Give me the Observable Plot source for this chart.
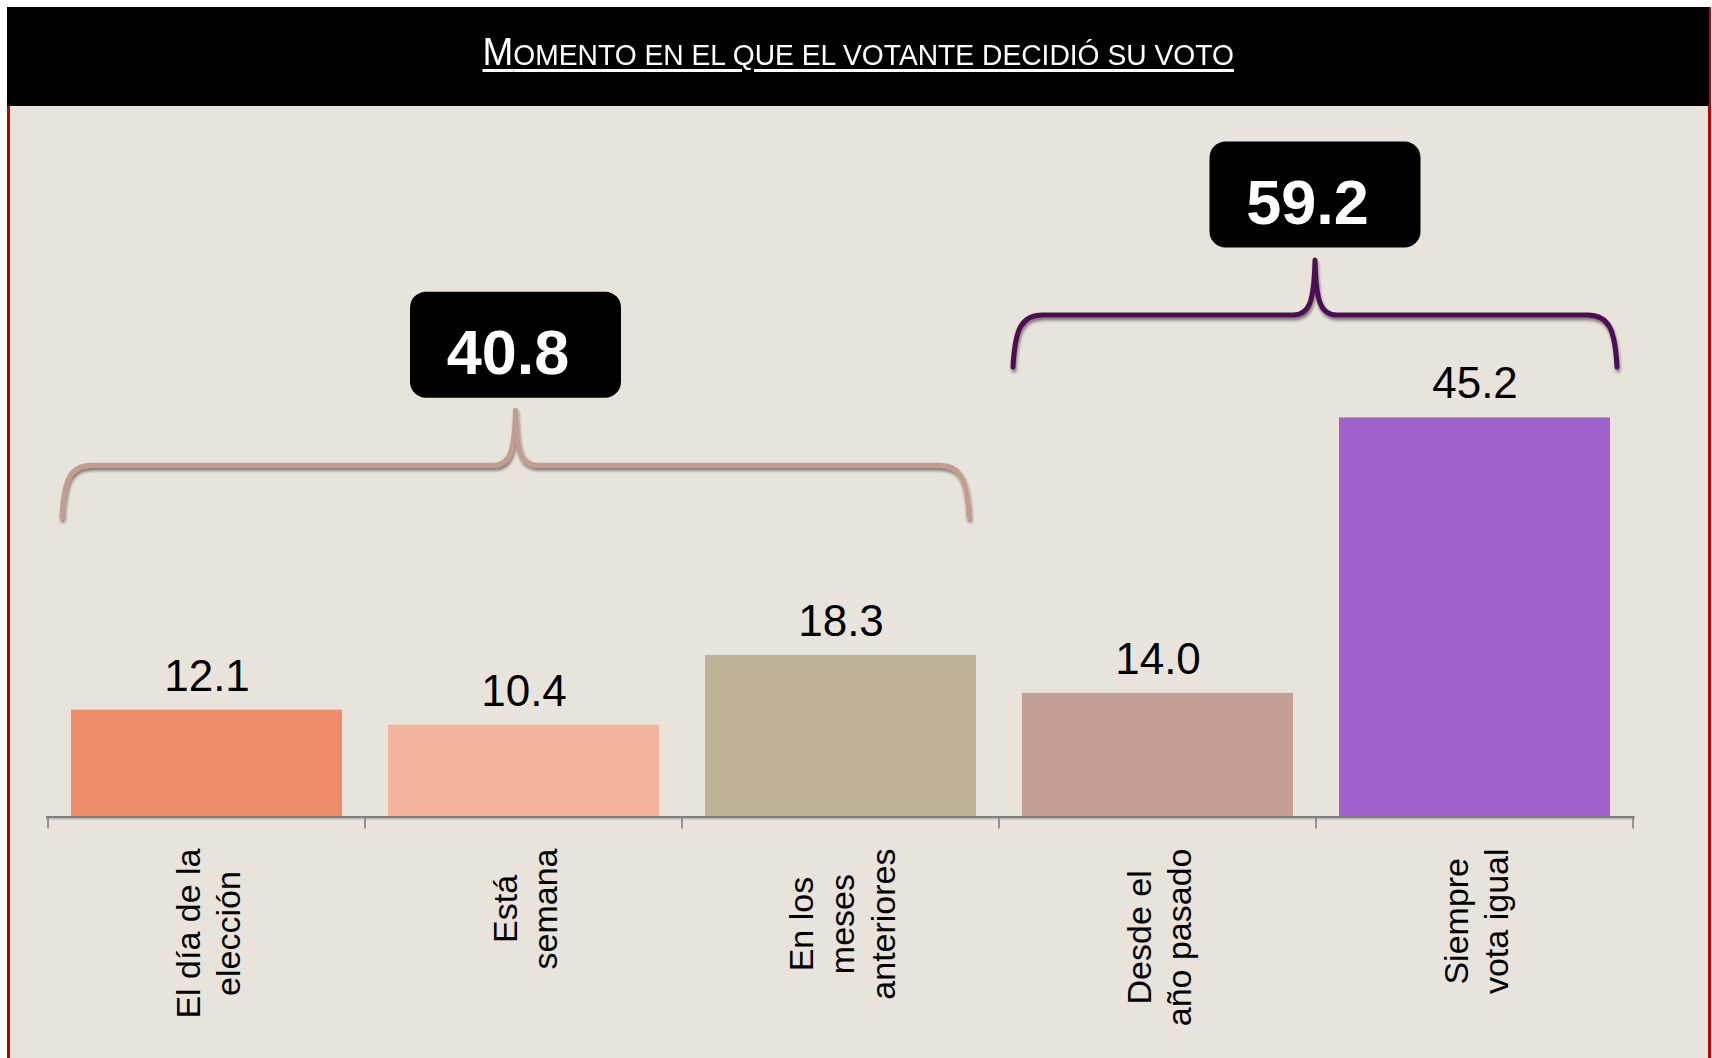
<!DOCTYPE html>
<html><head><meta charset="utf-8">
<script src="https://cdn.jsdelivr.net/npm/d3@7"></script>
<script src="https://cdn.jsdelivr.net/npm/@observablehq/plot@0.6"></script>
<style>
html,body{margin:0;padding:0;background:#fff;width:1712px;height:1058px;overflow:hidden;}
#frame{position:absolute;left:7px;top:7px;width:1704px;height:1060px;box-sizing:border-box;background:#E8E4DC;border-left:3px solid #C00000;border-right:3px solid #C00000;}
#header{position:absolute;left:7px;top:7px;width:1702px;height:99px;background:#000;}
#title{position:absolute;left:0;right:0;top:26px;text-align:center;white-space:nowrap;}
#titleText{display:inline-block;color:#fff;font-family:"Liberation Sans",Arial,sans-serif;font-size:38px;line-height:38px;text-decoration:underline;text-decoration-thickness:3px;text-underline-offset:4px;transform-origin:50% 50%;}
#titleText .sc{font-size:29px;}
#chart{position:absolute;left:0;top:106px;}
</style></head><body>
<div id="frame"></div>
<div id="header"><div id="title"><span id="titleText">M<span class="sc">OMENTO EN EL QUE EL VOTANTE DECIDIÓ SU VOTO</span></span></div></div>
<div id="chart"></div>
<script>
// ---- data ----
const categories = ["El día de la\nelección", "Está\nsemana", "En los\nmeses\nanteriores", "Desde el\naño pasado", "Siempre\nvota igual"];
const values = [12.1, 10.4, 18.3, 14.0, 45.2];
const valueLabels = ["12.1", "10.4", "18.3", "14.0", "45.2"];
const groupLabels = ["40.8", "59.2"];
const groupFirst = [0, 3];
const groupLast = [2, 4];

// ---- styles / layout ----
const FONT = "'Liberation Sans', Arial, Helvetica, sans-serif";
const barColors = ["#EF8D6B", "#F3B39C", "#BEB396", "#C59F94", "#A063CD"];
const braceColors = ["#C49C8F", "#4E0E52"];
const braceTipLevel = [33.9, 50.9];
const bracePad = [[-9, -7], [-9, 7]];

const data = categories.map((c, i) => ({cat: c, value: values[i], label: valueLabels[i]}));

const ctx = document.createElement("canvas").getContext("2d");
ctx.font = `34px ${FONT}`;

const categoryLabels = categories.map(c => {
  const maxLen = d3.max(c.split("\n"), s => ctx.measureText(s).width);
  return Plot.text([c], {
    x: d => d, text: d => d, frameAnchor: "bottom", rotate: -90,
    textAnchor: "middle", lineAnchor: "middle", lineHeight: 1.2,
    fontSize: 34, fill: "#000", dy: 31.5 + maxLen / 2
  });
});

function boundaryTicks(index, scales) {
  const x = scales.x, y = scales.y;
  const bw = x.bandwidth();
  const step = x.step ? x.step() : bw / (1 - 0.144);
  const off = (step - bw) / 2;
  const xs = categories.map(c => x(c) - off).concat([x(categories[categories.length - 1]) + bw + off]);
  const y0 = y(0);
  const g = d3.create("svg:g").attr("stroke", "#7F7F7F").attr("stroke-width", 1.6);
  g.selectAll("line").data(xs).join("line")
    .attr("x1", d => d).attr("x2", d => d).attr("y1", y0).attr("y2", y0 + 12);
  return g.node();
}

function annotations(index, scales) {
  const x = scales.x, y = scales.y, bw = x.bandwidth();
  const g = d3.create("svg:g");
  const f = g.append("defs").append("filter").attr("id", "braceShadow")
    .attr("x", "-5%").attr("y", "-30%").attr("width", "110%").attr("height", "160%");
  f.append("feDropShadow").attr("dx", 1).attr("dy", 3).attr("stdDeviation", 1.5)
    .attr("flood-color", "#000").attr("flood-opacity", 0.45);
  groupLabels.forEach((lab, k) => {
    const xl = x(categories[groupFirst[k]]) + bracePad[k][0];
    const xr = x(categories[groupLast[k]]) + bw + bracePad[k][1];
    const xc = (xl + xr) / 2;
    const yt = y(braceTipLevel[k]);
    const yh = yt - 52, yp = yh - 55;
    const p = `M${xl},${yt} C${xl + 2},${yh + 14} ${xl + 8},${yh} ${xl + 30},${yh} L${xc - 22},${yh} ` +
      `C${xc - 6},${yh} ${xc - 1},${yh - 12} ${xc},${yp} C${xc + 1},${yh - 12} ${xc + 6},${yh} ${xc + 22},${yh} ` +
      `L${xr - 30},${yh} C${xr - 8},${yh} ${xr - 2},${yh + 14} ${xr},${yt}`;
    g.append("path").attr("d", p).attr("fill", "none").attr("stroke", braceColors[k])
      .attr("stroke-width", 5).attr("stroke-linecap", "round").attr("stroke-linejoin", "round")
      .attr("filter", "url(#braceShadow)");
    const boxW = 211, boxH = 106, bb = yp - 12.5;
    g.append("rect").attr("x", xc - boxW / 2).attr("y", bb - boxH).attr("width", boxW).attr("height", boxH)
      .attr("rx", 16).attr("fill", "#000");
    g.append("text").attr("x", xc - 7.5).attr("y", bb - 23.5).attr("text-anchor", "middle")
      .attr("fill", "#fff").attr("font-weight", "bold").attr("font-size", 63)
      .attr("font-family", FONT).text(lab);
  });
  return g.node();
}

const chart = Plot.plot({
  width: 1712, height: 952,
  marginLeft: 46, marginRight: 77.5, marginTop: 4.1, marginBottom: 241.5,
  x: {domain: categories, paddingInner: 0.144, paddingOuter: 0.072, align: 0.5, axis: null},
  y: {domain: [0, 80], axis: null},
  color: {domain: categories, range: barColors},
  style: {background: "transparent", fontFamily: FONT, color: "#000", overflow: "visible"},
  marks: [
    Plot.barY(data, {x: "cat", y: "value", fill: "cat"}),
    Plot.ruleY([0], {stroke: "#BDBAB3", strokeWidth: 1.5, dy: 1.8}),
    Plot.ruleY([0], {stroke: "#7F7F7F", strokeWidth: 2}),
    boundaryTicks,
    Plot.text(data, {x: "cat", y: "value", text: "label", dy: -19.5, lineAnchor: "bottom", fontSize: 44, fill: "#000"}),
    ...categoryLabels,
    annotations
  ]
});
document.getElementById("chart").appendChild(chart);

const t = document.getElementById("titleText");
const tw = t.offsetWidth;
t.style.transform = `scaleX(${751 / tw})`;
</script>
</body></html>
